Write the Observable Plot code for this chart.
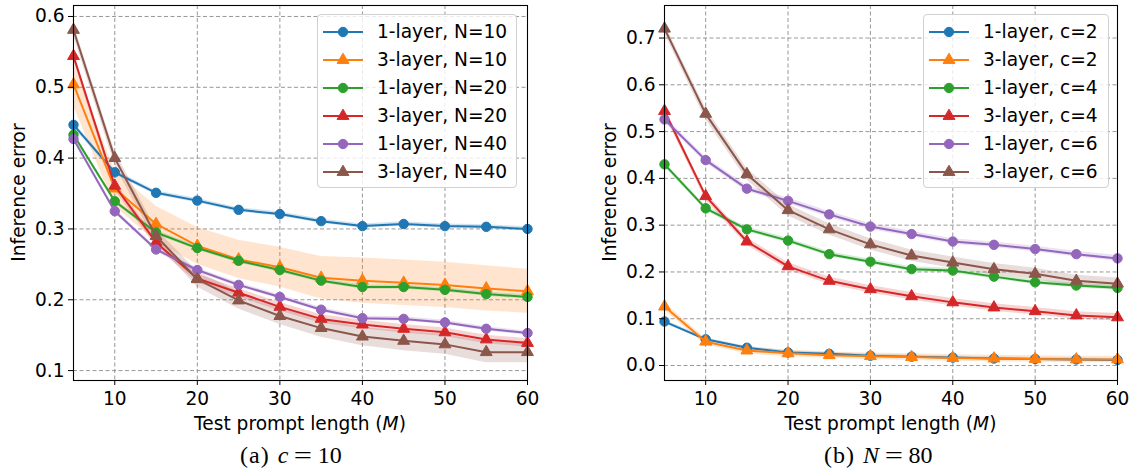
<!DOCTYPE html>
<html>
<head>
<meta charset="utf-8">
<script src="https://cdn.jsdelivr.net/npm/d3@7"></script>
<script src="https://cdn.jsdelivr.net/npm/@observablehq/plot@0.6"></script>
<style>
  html, body { margin: 0; padding: 0; background: #fff; }
  #root { position: relative; width: 1130px; height: 473px; font-family: "DejaVu Sans", sans-serif; }
  .panel { position: absolute; top: 0; }
  .legend { position: absolute; background: rgba(255,255,255,0.8); border: 1px solid #d0d0d0; border-radius: 4px; box-sizing: border-box; }
  .legend .row { position: absolute; left: 0; height: 28px; display: flex; align-items: center; }
  .legend .row span { font-size: 18.6px; color: #000; white-space: nowrap; }
  .caption { position: absolute; font-family: "Liberation Serif", "DejaVu Serif", serif; font-size: 24px; color: #000; white-space: nowrap; display: flex; align-items: baseline; }
  .caption i { font-style: italic; }
  .caption .eq { display: inline-block; transform: scaleX(1.35); margin: 0 8px; }
</style>
</head>
<body>
<div id="root"></div>
<script>
// ---------------- data ----------------
const M = [5, 10, 15, 20, 25, 30, 35, 40, 45, 50, 55, 60];
const colors = ["#1f77b4", "#ff7f0e", "#2ca02c", "#d62728", "#9467bd", "#8c564b"];
const symbols = ["circle", "triangle", "circle", "triangle", "circle", "triangle"];

// Panel (a): c = 10
const namesA = ["1-layer, N=10", "3-layer, N=10", "1-layer, N=20", "3-layer, N=20", "1-layer, N=40", "3-layer, N=40"];
const a_1L_N10 = [0.447, 0.380, 0.351, 0.340, 0.327, 0.321, 0.311, 0.304, 0.307, 0.304, 0.303, 0.300];
const a_3L_N10 = [0.504, 0.357, 0.307, 0.276, 0.257, 0.246, 0.231, 0.227, 0.224, 0.221, 0.216, 0.212];
const a_1L_N20 = [0.433, 0.339, 0.295, 0.273, 0.255, 0.242, 0.227, 0.218, 0.218, 0.214, 0.208, 0.204];
const a_3L_N20 = [0.544, 0.361, 0.281, 0.230, 0.210, 0.190, 0.173, 0.165, 0.159, 0.154, 0.144, 0.139];
const a_1L_N40 = [0.427, 0.325, 0.271, 0.242, 0.221, 0.204, 0.186, 0.174, 0.173, 0.168, 0.159, 0.153];
const a_3L_N40 = [0.581, 0.400, 0.290, 0.229, 0.199, 0.177, 0.160, 0.148, 0.142, 0.137, 0.126, 0.126];
const a_sd_1L_N10 = [0.004, 0.003, 0.003, 0.003, 0.003, 0.003, 0.003, 0.003, 0.003, 0.003, 0.003, 0.003];
const a_sd_3L_N10 = [0.030, 0.025, 0.025, 0.026, 0.027, 0.028, 0.030, 0.032, 0.032, 0.032, 0.032, 0.031];
const a_sd_1L_N20 = [0.004, 0.003, 0.003, 0.003, 0.003, 0.003, 0.003, 0.003, 0.003, 0.003, 0.003, 0.003];
const a_sd_3L_N20 = [0.006, 0.006, 0.006, 0.006, 0.006, 0.006, 0.006, 0.006, 0.006, 0.006, 0.006, 0.006];
const a_sd_1L_N40 = [0.003, 0.003, 0.003, 0.003, 0.003, 0.003, 0.003, 0.003, 0.003, 0.003, 0.003, 0.003];
const a_sd_3L_N40 = [0.008, 0.010, 0.010, 0.011, 0.012, 0.012, 0.013, 0.013, 0.014, 0.014, 0.015, 0.015];

// Panel (b): N = 80
const namesB = ["1-layer, c=2", "3-layer, c=2", "1-layer, c=4", "3-layer, c=4", "1-layer, c=6", "3-layer, c=6"];
const b_1L_c2 = [0.094, 0.056, 0.038, 0.028, 0.025, 0.021, 0.019, 0.017, 0.015, 0.014, 0.013, 0.012];
const b_3L_c2 = [0.126, 0.051, 0.032, 0.026, 0.022, 0.020, 0.018, 0.016, 0.015, 0.014, 0.013, 0.013];
const b_1L_c4 = [0.430, 0.336, 0.291, 0.267, 0.238, 0.222, 0.206, 0.203, 0.190, 0.178, 0.171, 0.166];
const b_3L_c4 = [0.544, 0.362, 0.265, 0.212, 0.181, 0.163, 0.148, 0.135, 0.124, 0.116, 0.107, 0.103];
const b_1L_c6 = [0.526, 0.439, 0.378, 0.352, 0.323, 0.297, 0.281, 0.265, 0.258, 0.249, 0.238, 0.229];
const b_3L_c6 = [0.720, 0.538, 0.409, 0.332, 0.291, 0.259, 0.235, 0.220, 0.206, 0.196, 0.181, 0.175];
const b_sd_1L_c2 = [0.004, 0.003, 0.003, 0.003, 0.003, 0.003, 0.003, 0.003, 0.003, 0.003, 0.003, 0.003];
const b_sd_3L_c2 = [0.008, 0.007, 0.007, 0.007, 0.007, 0.007, 0.007, 0.007, 0.007, 0.007, 0.007, 0.007];
const b_sd_1L_c4 = [0.005, 0.005, 0.005, 0.005, 0.005, 0.005, 0.005, 0.005, 0.005, 0.005, 0.005, 0.005];
const b_sd_3L_c4 = [0.008, 0.008, 0.008, 0.008, 0.008, 0.008, 0.008, 0.008, 0.008, 0.008, 0.008, 0.008];
const b_sd_1L_c6 = [0.006, 0.006, 0.006, 0.006, 0.006, 0.006, 0.006, 0.006, 0.006, 0.006, 0.006, 0.006];
const b_sd_3L_c6 = [0.010, 0.012, 0.012, 0.012, 0.012, 0.012, 0.012, 0.012, 0.012, 0.012, 0.012, 0.012];

const xTicks = [10, 20, 30, 40, 50, 60];
const yTicksA = [0.1, 0.2, 0.3, 0.4, 0.5, 0.6];
const yTicksB = [0.0, 0.1, 0.2, 0.3, 0.4, 0.5, 0.6, 0.7];

const xLabel = ["Test prompt length (", "M", ")"];
const yLabel = "Inference error";
const FS = 18.6;

// ---------------- helpers ----------------
function build(names, vals, sds) {
  const rows = [];
  names.forEach((name, s) => {
    M.forEach((m, i) => rows.push({series: name, idx: s, x: m, y: vals[s][i], lo: vals[s][i] - sds[s][i], hi: vals[s][i] + sds[s][i]}));
  });
  return rows;
}
const rad = s => symbols[s] === "circle" ? 4.7 : 4.4;

function panel({names, vals, sds, yDomain, yTicks, left, marginLeft, marginRight, legendLeft, legendWidth, caption, captionLeft}) {
  const rows = build(names, vals, sds);
  const W = 565, H = 440, mT = 5, mB = 60;
  const marks = [
    Plot.gridX(xTicks, {stroke: "#8c8c8c", strokeOpacity: 1, strokeDasharray: "4,2.5", strokeWidth: 0.9}),
    Plot.gridY(yTicks, {stroke: "#8c8c8c", strokeOpacity: 1, strokeDasharray: "4,2.5", strokeWidth: 0.9}),
  ];
  names.forEach((name, s) => {
    const d = rows.filter(r => r.idx === s);
    marks.push(Plot.areaY(d, {x: "x", y1: "lo", y2: "hi", fill: colors[s], fillOpacity: 0.2, curve: "linear"}));
  });
  names.forEach((name, s) => {
    const d = rows.filter(r => r.idx === s);
    marks.push(Plot.line(d, {x: "x", y: "y", stroke: colors[s], strokeWidth: 2}));
    marks.push(Plot.dot(d, {x: "x", y: "y", fill: colors[s], stroke: colors[s], strokeWidth: 1,
      symbol: () => symbols[s], r: rad(s)}));
  });
  marks.push(Plot.frame({stroke: "#000", strokeWidth: 1.1}));
  marks.push(Plot.axisX(xTicks, {tickSize: 5, tickPadding: 6, fontSize: FS, label: null, tickFormat: d => String(d), stroke: "#000"}));
  marks.push(Plot.axisY(yTicks, {tickSize: 5, tickPadding: 4, fontSize: FS, label: null, tickFormat: d3.format(".1f"), stroke: "#000"}));

  const svg = Plot.plot({
    width: W, height: H,
    marginLeft, marginRight, marginTop: mT, marginBottom: mB,
    x: {domain: [5, 60]},
    y: {domain: yDomain},
    symbol: {type: "identity"},
    style: {fontFamily: "DejaVu Sans", fontSize: FS + "px", color: "#000", background: "transparent", overflow: "visible"},
    marks
  });
  svg.classList.add("panel");
  svg.style.left = left + "px";
  const root = document.getElementById("root");
  root.appendChild(svg);

  const sel = d3.select(svg);
  const cx = marginLeft + (W - marginLeft - marginRight) / 2;
  const t = sel.append("text").attr("x", cx).attr("y", 423).attr("dy", "0.35em")
    .attr("text-anchor", "middle").attr("font-size", FS).attr("fill", "#000");
  t.append("tspan").text(xLabel[0]);
  t.append("tspan").attr("font-style", "italic").text(xLabel[1]);
  t.append("tspan").text(xLabel[2]);
  const yl = marginLeft - 55;
  sel.append("text").attr("transform", `translate(${yl},${(mT + H - mB) / 2}) rotate(-90)`)
    .attr("dy", "0.35em").attr("text-anchor", "middle").attr("font-size", FS).attr("fill", "#000").text(yLabel);

  const lg = document.createElement("div");
  lg.className = "legend";
  lg.style.left = legendLeft + "px";
  lg.style.top = "14px";
  lg.style.width = legendWidth + "px";
  lg.style.height = "174px";
  names.forEach((name, s) => {
    const row = document.createElement("div");
    row.className = "row";
    row.style.top = (2.7 + 28 * s) + "px";
    row.style.left = "5px";
    const r = rad(s);
    const sym = symbols[s] === "circle"
      ? `<circle cx="20" cy="14" r="${r}" fill="${colors[s]}" stroke="${colors[s]}"/>`
      : `<path d="${d3.symbol(d3.symbolTriangle, Math.PI * r * r)()}" transform="translate(20,14)" fill="${colors[s]}" stroke="${colors[s]}"/>`;
    row.innerHTML = `<svg width="40" height="28" style="overflow:visible"><line x1="0" x2="40" y1="14" y2="14" stroke="${colors[s]}" stroke-width="2"/>${sym}</svg><span style="margin-left:14px">${name}</span>`;
    lg.appendChild(row);
  });
  root.appendChild(lg);

  const cap = document.createElement("div");
  cap.className = "caption";
  cap.style.left = captionLeft + "px";
  cap.style.top = "442px";
  cap.innerHTML = `<span style="letter-spacing:1px">${caption[0]}</span><i style="margin-left:8px">${caption[1]}</i><span class="eq">=</span><span>${caption[2]}</span>`;
  root.appendChild(cap);
}

panel({
  names: namesA,
  vals: [a_1L_N10, a_3L_N10, a_1L_N20, a_3L_N20, a_1L_N40, a_3L_N40],
  sds: [a_sd_1L_N10, a_sd_3L_N10, a_sd_1L_N20, a_sd_3L_N20, a_sd_1L_N40, a_sd_3L_N40],
  yDomain: [0.086, 0.6155], yTicks: yTicksA,
  left: 0, marginLeft: 73, marginRight: 38,
  legendLeft: 317, legendWidth: 200,
  caption: ["(a)", "c", "10"], captionLeft: 240
});
panel({
  names: namesB,
  vals: [b_1L_c2, b_3L_c2, b_1L_c4, b_3L_c4, b_1L_c6, b_3L_c6],
  sds: [b_sd_1L_c2, b_sd_3L_c2, b_sd_1L_c4, b_sd_3L_c4, b_sd_1L_c6, b_sd_3L_c6],
  yDomain: [-0.032, 0.7695], yTicks: yTicksB,
  left: 565, marginLeft: 99, marginRight: 13,
  legendLeft: 923, legendWidth: 186,
  caption: ["(b)", "N", "80"], captionLeft: 824
});
</script>
</body>
</html>
